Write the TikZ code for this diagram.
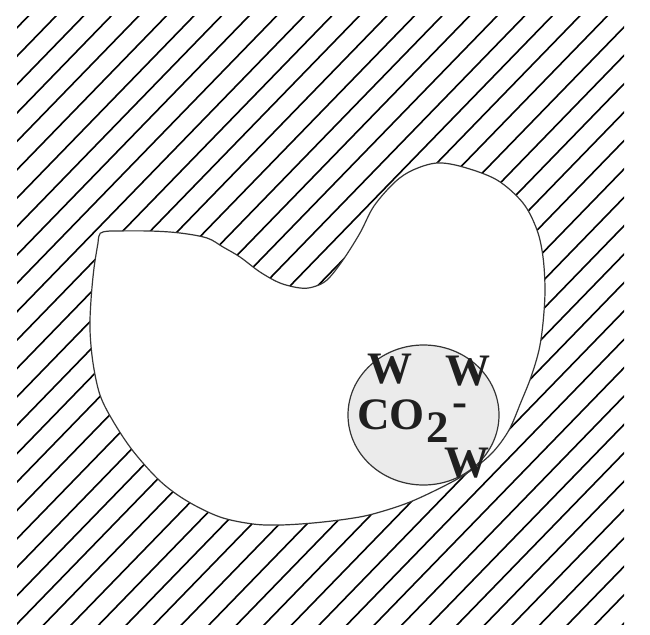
\documentclass[tikz,border=0pt]{standalone}
\usepackage{fontspec}
\newfontfamily\tnrbold{Liberation Serif Bold}
\usetikzlibrary{shapes.geometric}
\begin{document}
\begin{tikzpicture}[x=1pt,y=-1pt,
  hatchline/.style={line width=1.6pt,black},
  outline/.style={line width=1.2pt,draw=black!80},
  lbl/.style={inner sep=0pt,outer sep=0pt,text=black!88,font=\tnrbold\fontsize{45}{50}\selectfont}]
\useasboundingbox[fill=white] (0,0) rectangle (650,634);
% hatched field
\begin{scope}
  \clip (17,17) rectangle (624,624);
  \foreach \k in {-2,...,43}{
    \pgfmathsetmacro{\c}{73.65+28.39*\k}
    \draw[hatchline] (0,\c) -- (650,\c-669.5);
  }
\end{scope}
% blob (cavity)
\def\blobpath{plot[smooth,tension=0.55] coordinates {
  (110,231) (150,231) (180,233) (207,238) (223,247) (240,257) (260,272)
  (280,283) (300,288) (313,287) (327,280) (343,260) (360,233) (374,206)
  (395,182) (413,170) (437,163) (463,167) (497,180) (523,203) (537,230)
  (543,257) (545,290) (543,323) (539,350) (531,377) (521,402) (509,430)
  (493,452) (473,469) (450,483) (410,502) (373,514) (347,519) (313,523)
  (280,525) (253,524) (220,517) (187,501) (160,481) (133,451) (113,421)
  (100,395) (93,363) (90,330) (91,300) (94,268) (98,243)}
  .. controls (99,232) .. (110,231) -- cycle}
\fill[white] \blobpath;
% grey pocket
\node[ellipse,minimum width=151pt,minimum height=140pt,inner sep=0pt,
  fill=black!8,draw=black!80,line width=1.2pt] (pocket) at (423.5,415) {};
\draw[outline] \blobpath;
% labels
\node[lbl,anchor=base] (w1) at (389.5,383) {W};
\node[lbl,anchor=base] (w2) at (468,385) {W};
\node[lbl,anchor=base] (w3) at (467,477) {W};
\node[lbl,anchor=base west] (co) at (357,429) {CO};
\node[lbl,anchor=base west] (two) at (426,442) {2};
\node[lbl,anchor=base west,text height=14pt,text depth=0pt] (minus) at (452,416) {-};
\end{tikzpicture}
\end{document}
